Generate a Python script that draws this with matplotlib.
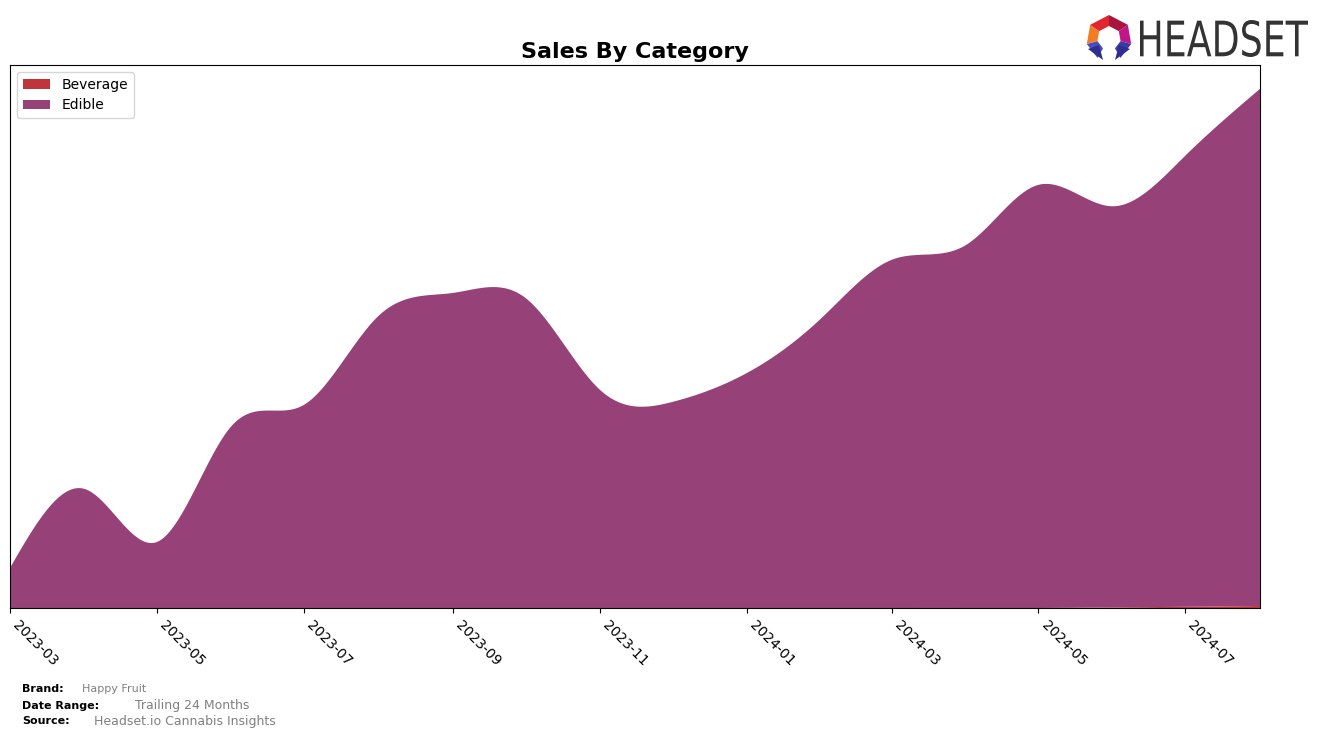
import numpy as np
import pandas as pd
import matplotlib.pyplot as plt
import matplotlib.dates as mdates
from matplotlib.patches import Polygon, PathPatch
from matplotlib.textpath import TextPath
from matplotlib.font_manager import FontProperties
from matplotlib.transforms import Affine2D

months = pd.date_range("2023-03-01", "2024-08-01", freq="MS")
edible = [40, 119, 66, 182, 203, 292, 315, 310, 218, 206, 235, 290, 348, 363, 423, 401, 451, 517]
beverage = [0, 0, 0, 0, 0, 0, 0, 0, 0, 0, 0, 0, 0, 0, 0, 0.6, 1.2, 2.0]
labels = ["Beverage", "Edible"]
colors = ["#c0353b", "#964177"]


def spline(x, y, xs):
    # natural cubic spline
    x = np.asarray(x, float)
    y = np.asarray(y, float)
    n = len(x)
    h = np.diff(x)
    A = np.zeros((n, n))
    b = np.zeros(n)
    A[0, 0] = 1
    A[-1, -1] = 1
    for i in range(1, n - 1):
        A[i, i - 1] = h[i - 1]
        A[i, i] = 2 * (h[i - 1] + h[i])
        A[i, i + 1] = h[i]
        b[i] = 6 * ((y[i + 1] - y[i]) / h[i] - (y[i] - y[i - 1]) / h[i - 1])
    M = np.linalg.solve(A, b)
    idx = np.clip(np.searchsorted(x, xs) - 1, 0, n - 2)
    x0, x1 = x[idx], x[idx + 1]
    hh = x1 - x0
    t0, t1 = x1 - xs, xs - x0
    return (M[idx] * t0 ** 3 / (6 * hh) + M[idx + 1] * t1 ** 3 / (6 * hh)
            + (y[idx] / hh - M[idx] * hh / 6) * t0
            + (y[idx + 1] / hh - M[idx + 1] * hh / 6) * t1)


xnum = mdates.date2num(months)
xs = np.linspace(xnum[0], xnum[-1], 800)
bev_s = np.clip(spline(xnum, beverage, xs), 0, None)
edi_s = np.clip(spline(xnum, edible, xs), 0, None)

fig = plt.figure(figsize=(13.24, 7.38), dpi=100)
ax = fig.add_axes([10 / 1324, 1 - 608 / 738, 1250 / 1324, 543 / 738])
ax.stackplot(mdates.num2date(xs), bev_s, edi_s, labels=labels, colors=colors)
ax.set_xlim(months[0], months[-1])
ax.set_ylim(0, max(edible) * 1.05)
ax.set_yticks([])
ax.xaxis.set_major_locator(mdates.MonthLocator(bymonth=[1, 3, 5, 7, 9, 11]))
ax.xaxis.set_major_formatter(mdates.DateFormatter("%Y-%m"))
plt.setp(ax.get_xticklabels(), rotation=-45, ha="left", fontsize=10)
ax.legend(loc="upper left", fontsize=10)
ax.set_title("Sales By Category", fontsize=16, fontweight="bold", pad=5)

# footer
fig.text(22 / 1324, 1 - 689 / 738, "Brand:", fontsize=8, fontweight="bold", va="center")
fig.text(82 / 1324, 1 - 689 / 738, "Happy Fruit", fontsize=8, color="gray", va="center")
fig.text(22 / 1324, 1 - 706 / 738, "Date Range:", fontsize=8, fontweight="bold", va="center")
fig.text(135 / 1324, 1 - 706 / 738, "Trailing 24 Months", fontsize=9, color="gray", va="center")
fig.text(22 / 1324, 1 - 721 / 738, "Source:", fontsize=8, fontweight="bold", va="center")
fig.text(94 / 1324, 1 - 721 / 738, "Headset.io Cannabis Insights", fontsize=9, color="gray", va="center")

# logo, drawn in figure pixel coordinates
lax = fig.add_axes([0, 0, 1, 1], zorder=5)
lax.set_xlim(0, 1324)
lax.set_ylim(738, 0)
lax.axis("off")
cx, cy, r_out, r_in = 1109, 38, 23, 12
bounds = [-150, -105, -55, 0, 55, 105, 150]
seg_colors = ["#4a4cc0", "#f07c24", "#e0262e", "#a8163e", "#c0168a", "#3a3aa8"]
for (a0, a1), c in zip(zip(bounds[:-1], bounds[1:]), seg_colors):
    pts = []
    for a, r in [(a0, r_out), (a1, r_out), (a1, r_in), (a0, r_in)]:
        t = np.radians(a)
        pts.append((cx + r * np.sin(t), cy - r * np.cos(t)))
    lax.add_patch(Polygon(pts, closed=True, color=c, lw=0))
# legs
lax.add_patch(Polygon([(1088, 49), (1099, 45), (1103, 60)], closed=True, color="#2e2e90", lw=0))
lax.add_patch(Polygon([(1130, 49), (1119, 45), (1115, 60)], closed=True, color="#2e2e90", lw=0))

tp = TextPath((0, 0), "HEADSET", size=10, prop=FontProperties(family="DejaVu Sans"))
ext = tp.get_extents()
sx = (1308 - 1140) / ext.width
sy = (57 - 20) / ext.height
tr = Affine2D().translate(-ext.x0, -ext.y0).scale(sx, -sy).translate(1140, 57)
lax.add_patch(PathPatch(tr.transform_path(tp), color="#333333", lw=0))

fig.savefig("out.png", dpi=100)
